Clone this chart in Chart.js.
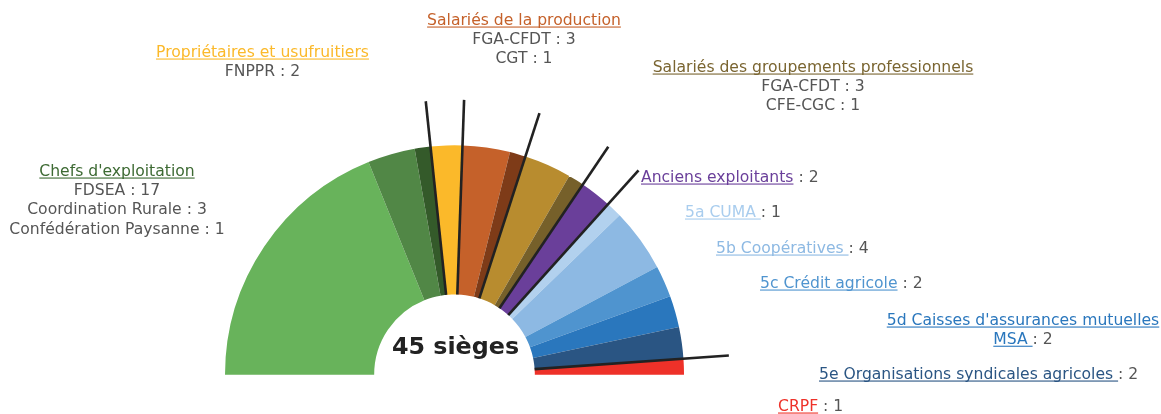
<!DOCTYPE html>
<html>
<head>
<meta charset="utf-8">
<script src="https://cdn.jsdelivr.net/npm/chart.js@4.4.1/dist/chart.umd.min.js"></script>
<style>
html,body{margin:0;padding:0;background:#fff;}
#wrap{width:1161px;height:414px;position:relative;}
</style>
</head>
<body>
<div id="wrap"><canvas id="c" width="1161" height="414"></canvas></div>
<script>
// ---- Data ----
const groupNames = ["Chefs d'exploitation", "Propriétaires et usufruitiers", "Salariés de la production",
  "Salariés des groupements professionnels", "Anciens exploitants", "5a CUMA ", "5b Coopératives ",
  "5c Crédit agricole", "5d Caisses d'assurances mutuelles MSA ", "5e Organisations syndicales agricoles ", "CRPF"];
const partyNames = ["FDSEA", "Coordination Rurale", "Confédération Paysanne", "FNPPR", "FGA-CFDT", "CGT",
  "FGA-CFDT", "CFE-CGC", "Anciens exploitants", "5a CUMA", "5b Coopératives", "5c Crédit agricole",
  "5d Caisses d'assurances mutuelles MSA", "5e Organisations syndicales agricoles", "CRPF"];
const partyGroup = [0, 0, 0, 1, 2, 2, 3, 3, 4, 5, 6, 7, 8, 9, 10];
const seats = [17, 3, 1, 2, 3, 1, 3, 1, 2, 1, 4, 2, 2, 2, 1];
const partyColors = ["#68b35b", "#518746", "#345a2a", "#fbb92a", "#c5612a", "#7e3b18",
  "#b88c2f", "#76602a", "#6a3f9a", "#b2d1ee", "#8db9e3", "#4f94cf", "#2a77bd", "#2a5583", "#ee3129"];
const groupColors = ["#3d6a33", "#fbb92a", "#c5612a", "#7a6531", "#6a3f9a", "#a9cdee", "#8db9e3",
  "#4f94cf", "#2a77bd", "#2a5583", "#ee3129"];
const separatorAfter = [2, 3, 5, 7, 8, 13];
const totalSeats = seats.reduce((a, b) => a + b, 0);

const FONT = "15.6px 'DejaVu Sans', Verdana, sans-serif";
const GREY = "#555555";

function partyLine(i) { return partyNames[i] + " : " + seats[i]; }
function suffix(name, n) { return (name.endsWith(" ") ? ": " : " : ") + n; }

function buildBlocks() {
  const blocks = [];
  const grouped = [
    {g: 0, x: 117, y: 176},
    {g: 1, x: 262.5, y: 57},
    {g: 2, x: 524, y: 25},
    {g: 3, x: 813, y: 72},
  ];
  grouped.forEach(b => {
    const lines = [[{t: groupNames[b.g], c: groupColors[b.g], u: true}]];
    partyGroup.forEach((pg, i) => { if (pg === b.g) lines.push([{t: partyLine(i), c: GREY}]); });
    blocks.push({align: 'center', x: b.x, y: b.y, lines});
  });
  const single = [
    {g: 4, p: 8, x: 641, y: 182},
    {g: 5, p: 9, x: 685, y: 217},
    {g: 6, p: 10, x: 716, y: 253},
    {g: 7, p: 11, x: 760, y: 288},
    {g: 9, p: 13, x: 819, y: 379},
    {g: 10, p: 14, x: 778, y: 411},
  ];
  single.forEach(b => {
    blocks.push({align: 'left', x: b.x, y: b.y, lines: [[
      {t: groupNames[b.g], c: groupColors[b.g], u: true},
      {t: suffix(groupNames[b.g], seats[b.p]), c: GREY}
    ]]});
  });
  const words = groupNames[8];
  const cut = words.lastIndexOf("MSA");
  blocks.push({align: 'center', x: 1023, y: 325, lines: [
    [{t: words.slice(0, cut).trimEnd(), c: groupColors[8], u: true}],
    [{t: words.slice(cut), c: groupColors[8], u: true}, {t: suffix(words, seats[12]), c: GREY}]
  ]});
  return blocks;
}

const overlay = {
  id: 'overlay',
  afterDatasetsDraw(chart) {
    const ctx = chart.ctx;
    const meta = chart.getDatasetMeta(0);
    const arc0 = meta.data[0];
    const cx = arc0.x, cy = arc0.y;
    const inner = arc0.innerRadius;
    ctx.save();
    ctx.strokeStyle = "#222222";
    ctx.lineWidth = 2.6;
    ctx.lineCap = 'butt';
    separatorAfter.forEach(i => {
      const a = meta.data[i].endAngle;
      ctx.beginPath();
      ctx.moveTo(cx + Math.cos(a) * inner, cy + Math.sin(a) * inner);
      ctx.lineTo(cx + Math.cos(a) * 275, cy + Math.sin(a) * 275);
      ctx.stroke();
    });
    ctx.restore();
    ctx.save();
    ctx.font = "bold 23.8px 'DejaVu Sans', Verdana, sans-serif";
    ctx.fillStyle = "#222222";
    ctx.textAlign = 'center';
    ctx.textBaseline = 'alphabetic';
    ctx.fillText(totalSeats + " sièges", cx + 1, cy - 20.5);
    ctx.restore();
    ctx.save();
    ctx.font = FONT;
    ctx.textBaseline = 'alphabetic';
    ctx.textAlign = 'left';
    buildBlocks().forEach(b => {
      b.lines.forEach((segs, li) => {
        const y = b.y + li * 19.2;
        const total = segs.reduce((s, sg) => s + ctx.measureText(sg.t).width, 0);
        let x = b.align === 'center' ? b.x - total / 2 : b.x;
        segs.forEach(sg => {
          const w = ctx.measureText(sg.t).width;
          ctx.fillStyle = sg.c;
          ctx.fillText(sg.t, x, y);
          if (sg.u) { ctx.fillRect(x, y + 1.5, w, 1.1); }
          x += w;
        });
      });
    });
    ctx.restore();
  }
};

new Chart(document.getElementById('c'), {
  type: 'doughnut',
  data: {
    labels: partyNames,
    datasets: [{
      data: seats,
      backgroundColor: partyColors,
      borderWidth: 0,
    }]
  },
  options: {
    responsive: false,
    animation: false,
    rotation: -90,
    circumference: 180,
    cutout: '35%',
    layout: {padding: {left: 225, right: 477, top: 145, bottom: 39}},
    plugins: {legend: {display: false}, tooltip: {enabled: false}}
  },
  plugins: [overlay]
});
</script>
</body>
</html>
